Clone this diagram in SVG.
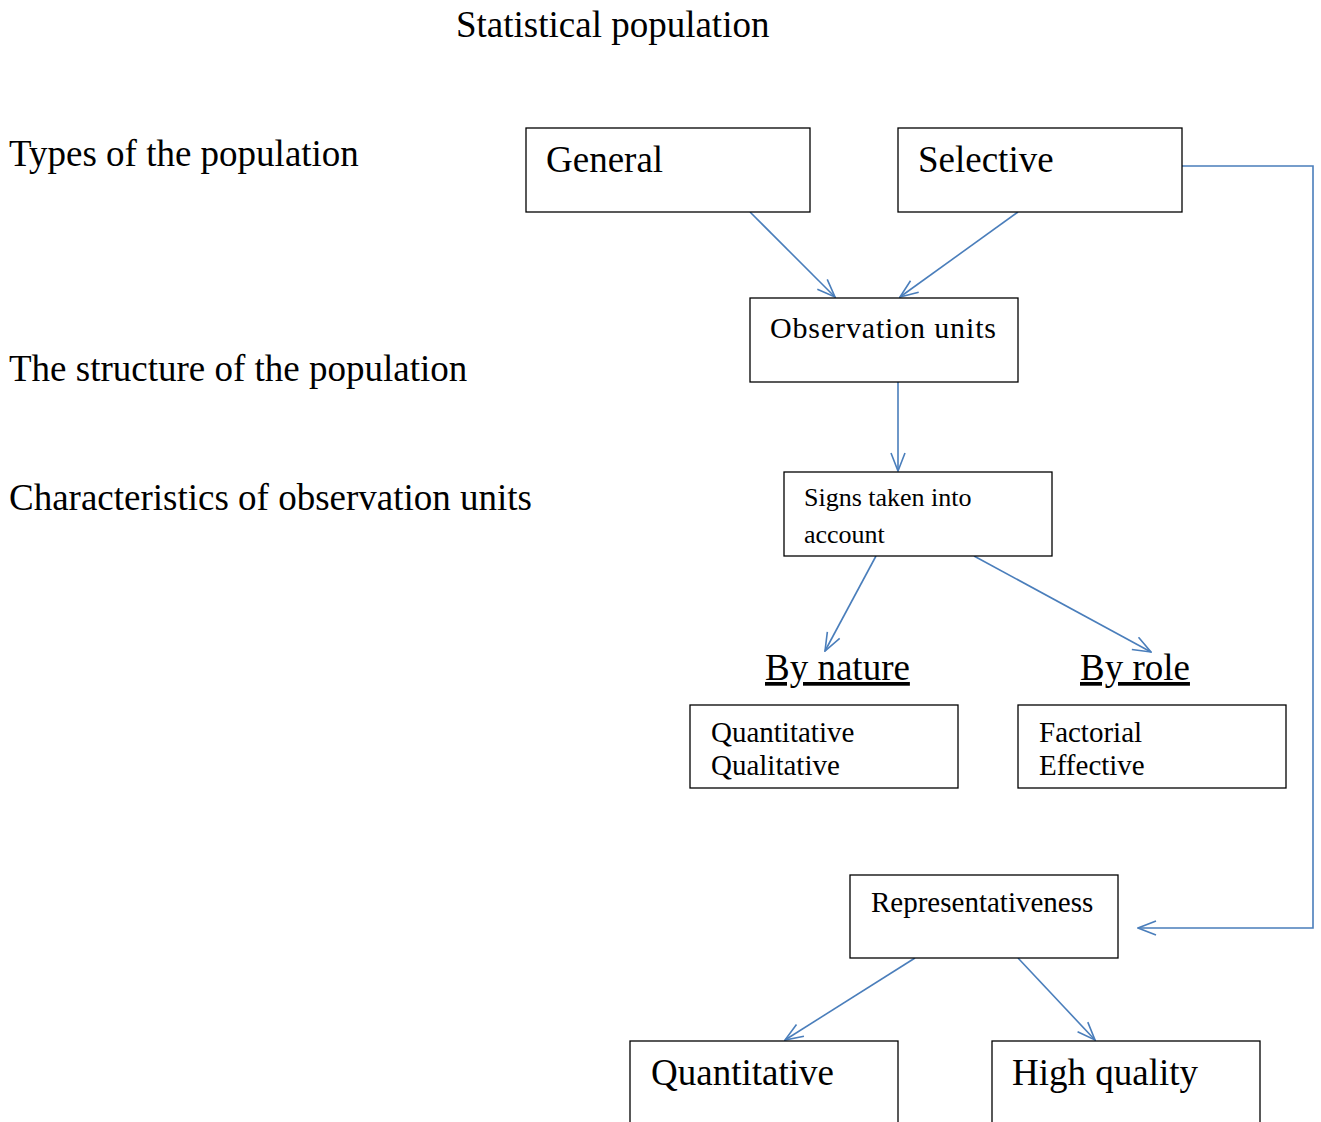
<svg xmlns="http://www.w3.org/2000/svg" width="1321" height="1122" viewBox="0 0 1321 1122">
<style>
text{font-family:"Liberation Serif","Times New Roman",serif;fill:#000}
.box{fill:#fff;stroke:#000;stroke-width:1.3}
.c{fill:none;stroke:#4a7ebb;stroke-width:1.6}
.big{font-size:37px}
.mid{font-size:30px}
.sm{font-size:26px}
.sm2{font-size:29px}
</style>
<defs>
<marker id="ah" viewBox="0 0 20 16" refX="19" refY="8" markerWidth="20" markerHeight="16" markerUnits="userSpaceOnUse" orient="auto">
<path d="M1,1 L19,8 L1,15" fill="none" stroke="#4a7ebb" stroke-width="1.6"/>
</marker>
</defs>
<rect width="1321" height="1122" fill="#fff"/>
<g id="labels">
<text class="big" x="456" y="37">Statistical population</text>
<text class="big" x="9" y="166">Types of the population</text>
<text class="big" x="9" y="381">The structure of the population</text>
<text class="big" x="9" y="510">Characteristics of observation units</text>
</g>
<g id="connectors">
<line class="c" x1="750" y1="212" x2="835" y2="297" marker-end="url(#ah)"/>
<line class="c" x1="1018" y1="212" x2="900" y2="297" marker-end="url(#ah)"/>
<line class="c" x1="898" y1="382" x2="898" y2="471" marker-end="url(#ah)"/>
<line class="c" x1="876" y1="556" x2="825" y2="651" marker-end="url(#ah)"/>
<line class="c" x1="974" y1="556" x2="1151" y2="652" marker-end="url(#ah)"/>
<polyline class="c" points="1182,166 1313,166 1313,928 1138,928" marker-end="url(#ah)"/>
<line class="c" x1="915" y1="958" x2="785" y2="1040" marker-end="url(#ah)"/>
<line class="c" x1="1018" y1="958" x2="1095" y2="1040" marker-end="url(#ah)"/>
</g>
<g id="general">
<rect class="box" x="526" y="128" width="284" height="84"/>
<text class="big" x="546" y="172">General</text>
</g>
<g id="selective">
<rect class="box" x="898" y="128" width="284" height="84"/>
<text class="big" x="918" y="172">Selective</text>
</g>
<g id="observation">
<rect class="box" x="750" y="298" width="268" height="84"/>
<text class="mid" x="770" y="338" textLength="226">Observation units</text>
</g>
<g id="signs">
<rect class="box" x="784" y="472" width="268" height="84"/>
<text class="sm" x="804" y="506">Signs taken into</text>
<text class="sm" x="804" y="543">account</text>
</g>
<g id="bynature">
<text class="big" x="765" y="680" text-decoration="underline">By nature</text>
</g>
<g id="byrole">
<text class="big" x="1080" y="680" text-decoration="underline">By role</text>
</g>
<g id="nature-box">
<rect class="box" x="690" y="705" width="268" height="83"/>
<text class="sm2" x="711" y="742">Quantitative</text>
<text class="sm2" x="711" y="775">Qualitative</text>
</g>
<g id="role-box">
<rect class="box" x="1018" y="705" width="268" height="83"/>
<text class="sm2" x="1039" y="742">Factorial</text>
<text class="sm2" x="1039" y="775">Effective</text>
</g>
<g id="representativeness">
<rect class="box" x="850" y="875" width="268" height="83"/>
<text class="sm2" x="871" y="912">Representativeness</text>
</g>
<g id="quantitative">
<rect class="box" x="630" y="1041" width="268" height="100"/>
<text class="big" x="651" y="1085">Quantitative</text>
</g>
<g id="highquality">
<rect class="box" x="992" y="1041" width="268" height="100"/>
<text class="big" x="1012" y="1085">High quality</text>
</g>
</svg>
